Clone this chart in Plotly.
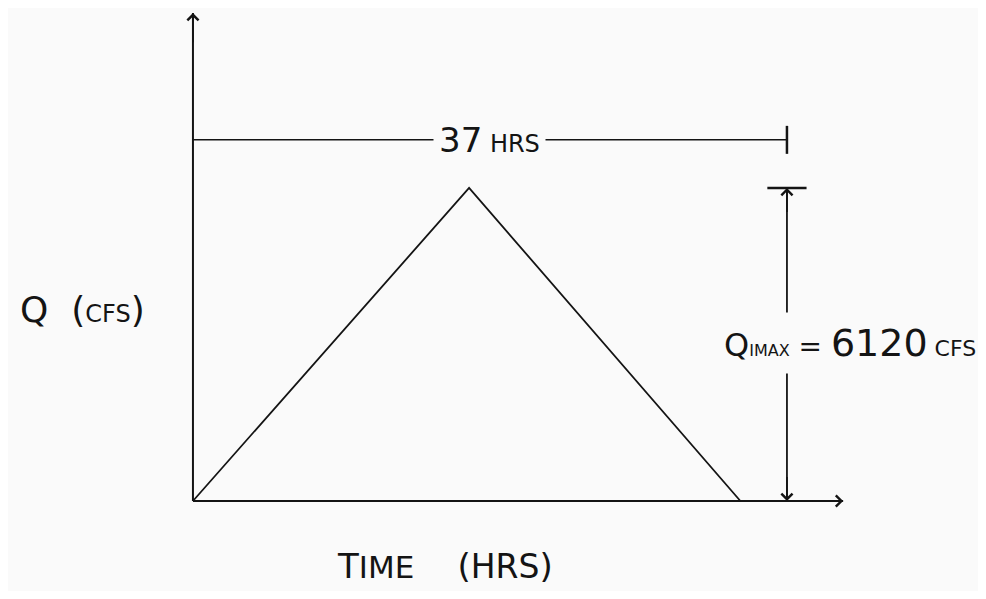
import plotly.graph_objects as go

# hydrograph (triangular), values
hydro_time = [0, 17.2, 34.1]      # hrs
hydro_q = [0, 6120, 0]            # cfs
base_hrs = 37
q_peak = 6120

# axis extents of the hand drawn axes
x_axis_end = 40.5
y_axis_end = 9540
dim_q_level = 7060                # height of the "37 HRS" dimension line

INK = "#141414"
PAPER = "#fafafa"
FONT = "DejaVu Sans"

fig = go.Figure()

# axes
fig.add_trace(go.Scatter(x=[0, x_axis_end], y=[0, 0], mode="lines",
                         line=dict(color=INK, width=2), hoverinfo="skip"))
fig.add_trace(go.Scatter(x=[0, 0], y=[0, y_axis_end], mode="lines",
                         line=dict(color=INK, width=2), hoverinfo="skip"))

# triangle
fig.add_trace(go.Scatter(x=hydro_time, y=hydro_q, mode="lines",
                         line=dict(color=INK, width=1.8), hoverinfo="skip"))

# duration dimension line
fig.add_trace(go.Scatter(x=[0, base_hrs], y=[dim_q_level, dim_q_level], mode="lines",
                         line=dict(color=INK, width=1.5), hoverinfo="skip"))
fig.add_trace(go.Scatter(x=[base_hrs], y=[dim_q_level], mode="markers",
                         marker=dict(symbol="line-ns", size=20,
                                     line=dict(color=INK, width=2.5)),
                         hoverinfo="skip"))

# peak dimension line
fig.add_trace(go.Scatter(x=[base_hrs, base_hrs], y=[0, q_peak], mode="lines",
                         line=dict(color=INK, width=1.8), hoverinfo="skip"))
fig.add_trace(go.Scatter(x=[base_hrs], y=[q_peak], mode="markers",
                         marker=dict(symbol="line-ew", size=28,
                                     line=dict(color=INK, width=2.5)),
                         hoverinfo="skip"))

arrow = dict(showarrow=True, arrowhead=4, arrowsize=1.2, arrowwidth=1.8,
             arrowcolor=INK, axref="x", ayref="y", xref="x", yref="y", text="")
fig.add_annotation(x=0, y=y_axis_end, ax=0, ay=y_axis_end - 600, **arrow)
fig.add_annotation(x=x_axis_end, y=0, ax=x_axis_end - 2, ay=0, **arrow)
fig.add_annotation(x=base_hrs, y=0, ax=base_hrs, ay=500, **arrow)
fig.add_annotation(x=base_hrs, y=q_peak, ax=base_hrs, ay=q_peak - 500, **arrow)

txt = dict(showarrow=False, xref="x", yref="y", font=dict(family=FONT, size=34, color=INK))

fig.add_annotation(x=base_hrs / 2, y=dim_q_level, bgcolor=PAPER, borderpad=5,
                   text="37<span style='font-size:24px'> HRS</span>", **txt)
fig.add_annotation(x=40.9, y=3090, bgcolor=PAPER, borderpad=8,
                   text=("<span style='font-size:32px'>Q</span>"
                         "<span style='font-size:16px'>IMAX</span>"
                         "<span style='font-size:28px'> = </span>"
                         f"<span style='font-size:38px'>{q_peak}</span>"
                         "<span style='font-size:22px'> CFS</span>"),
                   **txt)
fig.add_annotation(x=-6.9, y=3740,
                   text=("<span style='font-size:36px'>Q  (</span>"
                         "<span style='font-size:24px'>CFS</span>"
                         "<span style='font-size:36px'>)</span>"),
                   **txt)
fig.add_annotation(x=15.7, y=-1280, borderpad=0,
                   text=("<span style='font-size:34px'>T</span>"
                         "<span style='font-size:31px'>IME</span>"
                         "<span style='font-size:34px'>    (</span>"
                         "<span style='font-size:33px'>HRS</span>"
                         "<span style='font-size:34px'>)</span>"),
                   **txt)

# page body adds an 8 px margin, so the figure is a bit smaller than the window
fig.update_layout(
    width=970, height=583,
    margin=dict(l=0, r=0, t=0, b=0),
    paper_bgcolor=PAPER, plot_bgcolor=PAPER,
    showlegend=False,
    xaxis=dict(visible=False, range=[-11.52, 48.90], fixedrange=True),
    yaxis=dict(visible=False, range=[-1760, 9638], fixedrange=True),
)

fig.write_html("out.html")
